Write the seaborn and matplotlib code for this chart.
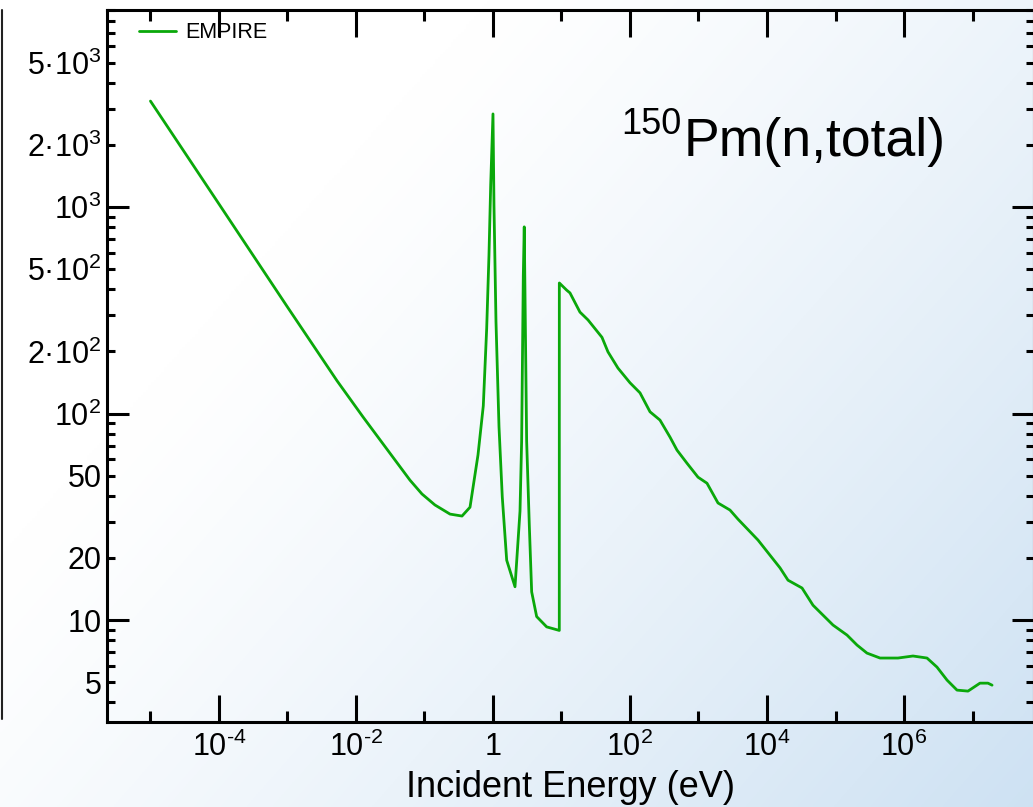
import numpy as np
import matplotlib
matplotlib.use("Agg")
import matplotlib.pyplot as plt
from matplotlib.lines import Line2D
from matplotlib.ticker import FixedLocator, FixedFormatter, NullFormatter
import seaborn as sns
import pandas as pd

# EMPIRE total cross section for 150Pm
energy_ev = [1.0e-5, 1.0e-4, 1.0e-3, 5.3e-3, 1.27e-2, 3.71e-2, 6.14e-2, 9.19e-2, 0.142, 0.236,
             0.353, 0.462, 0.604, 0.722, 0.809, 0.874, 0.926, 1.0, 1.034, 1.106,
             1.224, 1.367, 1.585, 2.096, 2.48, 2.62, 2.77, 2.86, 3.10, 3.39,
             3.67, 4.34, 6.08, 9.29, 9.30, 11.9, 13.3, 18.6, 24.4, 39.0,
             47.7, 66.8, 100, 140, 196, 274, 384, 486, 679, 984,
             1330, 1927, 2884, 3775, 7395, 15490, 20270, 32460, 46950, 92000,
             147300, 206000, 288000, 446700, 817000, 1.352e6, 2.166e6, 3.03e6, 4.25e6, 5.94e6,
             8.6e6, 1.285e7, 1.68e7, 1.93e7]
sigma_b = [3260, 1035, 328, 144, 96.2, 59.6, 47.6, 40.8, 36.1, 32.6,
           31.9, 35.2, 63.0, 109, 258, 586, 1282, 2825, 1014, 279,
           86.3, 39.4, 19.5, 14.5, 33.7, 73.6, 463, 802, 73.6, 28.8,
           13.7, 10.4, 9.27, 8.91, 429, 396, 384, 310, 284, 234,
           199, 166, 141, 126, 102, 93, 76.9, 66.5, 57.5, 49.2,
           46.0, 36.9, 34.1, 30.8, 24.4, 17.9, 15.6, 14.3, 11.8, 9.46,
           8.46, 7.57, 6.92, 6.55, 6.55, 6.70, 6.55, 5.92, 5.12, 4.58,
           4.53, 4.95, 4.95, 4.84]

x_major = [1e-4, 1e-2, 1, 1e2, 1e4, 1e6]
x_major_labels = ["$10^{\u20104}$", "$10^{\u20102}$", "1", "$10^{2}$", "$10^{4}$", "$10^{6}$"]
x_minor = [1e-5, 1e-3, 1e-1, 1e1, 1e3, 1e5, 1e7]

y_major = [10, 100, 1000]
y_major_labels = ["10", "$10^{2}$", "$10^{3}$"]
y_minor = [4, 5, 6, 7, 8, 9,
           20, 30, 40, 50, 60, 70, 80, 90,
           200, 300, 400, 500, 600, 700, 800, 900,
           2000, 3000, 4000, 5000, 6000, 7000, 8000, 9000]
y_minor_labels = ["", "5", "", "", "", "",
                  "20", "", "", "50", "", "", "", "",
                  "$2·10^{2}$", "", "", "$5·10^{2}$", "", "", "", "",
                  "$2·10^{3}$", "", "", "$5·10^{3}$", "", "", "", ""]

df = pd.DataFrame({"energy": energy_ev, "sigma": sigma_b})

sns.set_style("ticks")
plt.rcParams["font.family"] = ["Liberation Sans", "DejaVu Sans"]
plt.rcParams["mathtext.fontset"] = "custom"
plt.rcParams["mathtext.rm"] = "Liberation Sans"
plt.rcParams["mathtext.it"] = "Liberation Sans:italic"
plt.rcParams["mathtext.default"] = "regular"
plt.rcParams["axes.unicode_minus"] = False
for key in ["text.color", "axes.labelcolor", "xtick.color", "ytick.color", "axes.edgecolor"]:
    plt.rcParams[key] = "black"

fig = plt.figure(figsize=(10.33, 8.07), dpi=100)

# soft white-to-blue backdrop
bg = fig.add_axes([0, 0, 1, 1], zorder=-10)
bg.axis("off")
xx, yy = np.meshgrid(np.linspace(0, 1, 400), np.linspace(0, 1, 320))
t = np.clip(0.8 * xx + 0.55 * yy - 0.38, 0, 1) ** 1.2
white = np.array([1.0, 1.0, 1.0])
blue = np.array([0.80, 0.88, 0.95])
grad = white[None, None, :] * (1 - t[..., None]) + blue[None, None, :] * t[..., None]
bg.imshow(grad, extent=[0, 1, 0, 1], aspect="auto", origin="upper")
bg.set_xlim(0, 1)
bg.set_ylim(0, 1)

# thin dark rule on the far left edge
fig.add_artist(Line2D([0.0015, 0.0015], [88 / 807, 797 / 807], color="#222222",
                      linewidth=1.5, transform=fig.transFigure))

ax = fig.add_axes([107 / 1033, 85 / 807, 927 / 1033, 712 / 807])
ax.patch.set_alpha(0)

sns.lineplot(data=df, x="energy", y="sigma", ax=ax, color="#0aa80a", linewidth=2.0,
             estimator=None, sort=False, label="EMPIRE")

ax.set_xscale("log")
ax.set_yscale("log")
ax.set_xlim(2.32e-6, 7.9e7)
ax.set_ylim(3.21, 9000)

ax.xaxis.set_major_locator(FixedLocator(x_major))
ax.xaxis.set_major_formatter(FixedFormatter(x_major_labels))
ax.xaxis.set_minor_locator(FixedLocator(x_minor))
ax.xaxis.set_minor_formatter(NullFormatter())
ax.yaxis.set_major_locator(FixedLocator(y_major))
ax.yaxis.set_major_formatter(FixedFormatter(y_major_labels))
ax.yaxis.set_minor_locator(FixedLocator(y_minor))
ax.yaxis.set_minor_formatter(FixedFormatter(y_minor_labels))

ax.tick_params(axis="both", which="both", direction="in", top=True, right=True,
               width=2.2, colors="black", labelsize=22)
ax.tick_params(axis="x", which="major", length=19.5, pad=7)
ax.tick_params(axis="x", which="minor", length=8, pad=7)
ax.tick_params(axis="y", which="major", length=16, pad=4)
ax.tick_params(axis="y", which="minor", length=6, pad=4)
for s in ax.spines.values():
    s.set_linewidth(2.2)
    s.set_color("black")

ax.set_ylabel("")
ax.set_xlabel("Incident Energy (eV)", fontsize=26, color="black")
ax.xaxis.label.set_va("baseline")
ax.xaxis.set_label_coords(0.4995, -0.1053)

leg = ax.legend(loc="center left", bbox_to_anchor=(0.0345, 0.9677), frameon=False,
                fontsize=15.5, handlelength=1.7, handletextpad=0.45, borderpad=0,
                borderaxespad=0)
for h in leg.get_lines():
    h.set_linewidth(2.0)
for txt in leg.get_texts():
    txt.set_color("black")

fig.text(684 / 1033, 1 - 156 / 807, "Pm(n,total)", fontsize=38.5, ha="left", va="baseline",
         color="black")
fig.text(682 / 1033, 1 - 134 / 807, "150", fontsize=26, ha="right", va="baseline",
         color="black")

fig.savefig("out.png", dpi=100)
